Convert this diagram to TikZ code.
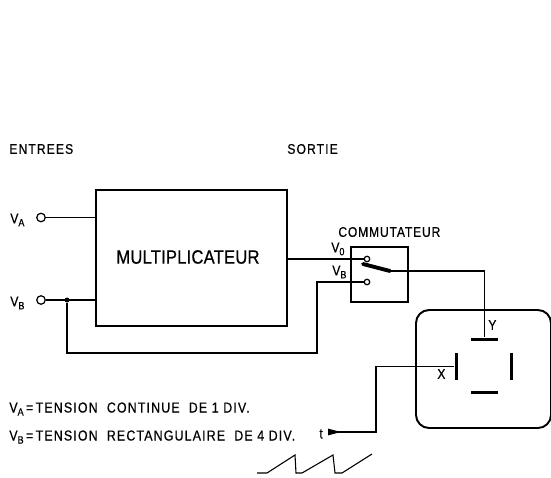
\documentclass[tikz,border=0pt]{standalone}
\usepackage{fontspec}
\setmainfont[FakeBold=0.6,FakeStretch=0.86,LetterSpace=8]{Liberation Sans}
\usetikzlibrary{arrows.meta,calc}
\newcommand{\volt}[1]{V\raisebox{-0.4ex}{\fontsize{6}{7}\selectfont #1}}

\begin{document}
\begin{tikzpicture}[
  x=0.02cm, y=-0.02cm,
  wire/.style={draw, line width=0.62pt},
  frame/.style={rectangle, draw, line width=1pt, inner sep=0pt},
  terminal/.style={circle, draw, fill=white, line width=0.7pt, inner sep=0pt, minimum size=0.17cm},
  plate/.style={rectangle, fill=black, inner sep=0pt},
  hplate/.style={plate, minimum width=0.54cm, minimum height=0.06cm},
  vplate/.style={plate, minimum width=0.06cm, minimum height=0.54cm},
  lbl/.style={font=\fontsize{8}{9}\selectfont, anchor=west, inner sep=0pt},
  note/.style={lbl, font=\fontsize{8.2}{9}\selectfont},
]
  \useasboundingbox (0,0) rectangle (551,477);

  % ===== Headings =====
  \node[lbl] (entrees) at (9,149) {ENTREES};
  \node[lbl] (sortie) at (287,149) {SORTIE};

  % ===== Multiplier =====
  \node[frame, minimum width=3.82cm, minimum height=2.72cm] (multi) at (191.5,258) {};
  \node[lbl, font=\fontsize{11}{12}\selectfont\addfontfeature{LetterSpace=1}] (multilabel) at (116,257) {MULTIPLICATEUR};
  \node[terminal] (vaterm) at (41,217.5) {};
  \node[terminal] (vbterm) at (41,300) {};
  \node[lbl] (valabel) at (10,220) {\volt{A}};
  \node[lbl] (vblabel) at (10,303) {\volt{B}};
  \node[circle, fill=black, inner sep=0pt, minimum size=0.1cm] (junc) at (67,300) {};
  \draw[wire] (vaterm) -- (vaterm -| multi.west);
  \draw[wire] (vbterm) -- (vbterm -| multi.west);

  % ===== Switch =====
  \node[frame, minimum width=1.14cm, minimum height=1.1cm] (switch) at (379.5,274.5) {};
  \node[lbl, font=\fontsize{8}{9}\selectfont\addfontfeature{LetterSpace=6}] (commlabel) at (338,232) {COMMUTATEUR};
  \node[lbl] (v0label) at (331,249) {\volt{0}};
  \node[lbl] (v1label) at (332,272) {\volt{B}};
  \node[terminal, minimum size=0.11cm] (vzero) at (367,259) {};
  \node[terminal, minimum size=0.11cm] (vone) at (367,282) {};
  \coordinate (bladea) at (363,264);
  \coordinate (bladeb) at (390,271);
  \draw[line width=2.2pt, line cap=round] (bladea) -- (bladeb);
  \draw[wire] (vzero -| multi.east) -- (vzero);

  % Feedback from VB to the switch
  \coordinate (fbk) at (317,353);
  \draw[wire] (junc) |- (fbk) |- (vone);

  % ===== Screen =====
  \node[rectangle, draw, line width=1.1pt, rounded corners=0.26cm, inner sep=0pt,
        minimum width=2.7cm, minimum height=2.36cm] (screen) at (483.5,369) {};
  \node[hplate] (yplate) at (484.5,339) {};
  \node[hplate] (bplate) at (484.5,392.5) {};
  \node[vplate] (xplate) at (456,366.5) {};
  \node[vplate] (rplate) at (511,366.5) {};
  \node[lbl] (ylabel) at (488,325) {Y};
  \node[lbl] (xlabel) at (437,374) {X};
  \draw[wire] (bladeb) -| (yplate.north);

  % ===== Time base =====
  \node[lbl] (tlabel) at (319,434) {t};
  \coordinate (tstart) at (328,432);
  \coordinate (tcorner) at (376,432);
  \draw[wire, {Triangle[reversed, length=0.26cm, width=0.13cm]}-] (tstart) -- (tcorner) |- (xplate.west);
  \coordinate (saw) at (257,473);
  \draw[wire] (saw) -- ++(10,0) -- ++(28,-18) -- ++(1,18) -- ++(6,0)
       -- ++(31,-18) -- ++(2,18) -- ++(7,0) -- ++(30,-19);

  % ===== Notes =====
  \node[note] (notea) at (9,409)
       {\volt{A}\,=\,TENSION\ \ CONTINUE\ \ DE 1 DIV.};
  \node[note] (noteb) at (9,437)
       {\volt{B}\,=\,TENSION\ \ RECTANGULAIRE\ \ DE 4 DIV.};

\end{tikzpicture}
\end{document}
